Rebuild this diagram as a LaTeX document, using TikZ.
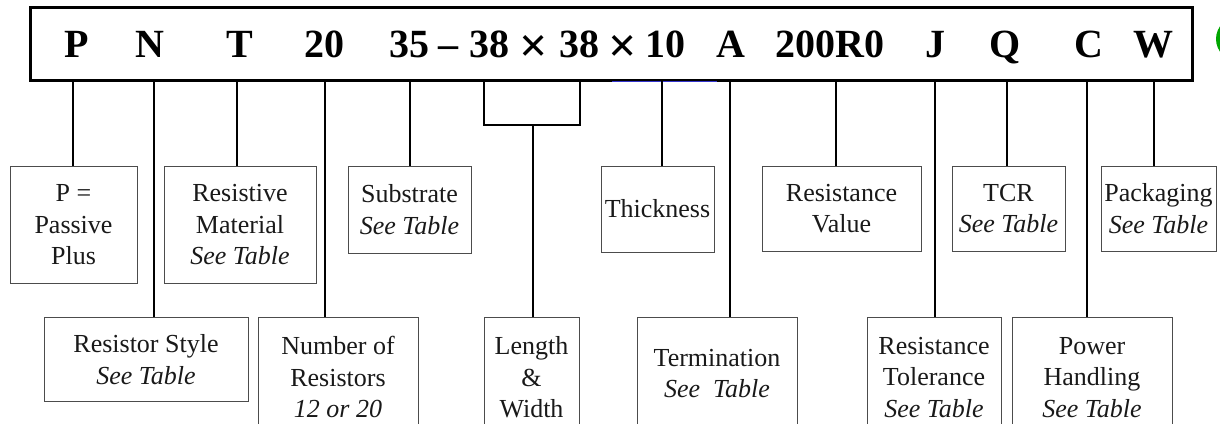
\documentclass[tikz,border=0pt]{standalone}
\usepackage{fontspec}
\setmainfont{Liberation Serif}
\begin{document}
\begin{tikzpicture}[x=1pt, y=-1pt]
  \tikzstyle{mainbox}=[rectangle, draw, line width=3pt, minimum width=1162pt, minimum height=73pt]
  \tikzstyle{code}=[anchor=base, inner sep=0pt, font=\fontsize{40}{40}\selectfont\bfseries]
  \tikzstyle{times}=[code, font=\fontsize{50}{50}\selectfont\bfseries]
  \tikzstyle{lbl}=[rectangle, draw=black!70, line width=0.9pt, anchor=north, align=center,
                   inner sep=2pt, text=black!90, font=\fontsize{26}{31.5}\selectfont]
  \tikzstyle{stem}=[line width=2.6pt]
  \tikzstyle{brk}=[line width=2pt]

  \useasboundingbox (0,0) rectangle (1220,423);

  % Kennung
  \node[mainbox] (pn) at (611.9,44) {};
  \foreach \x/\ch [count=\i] in {77/P, 150/N, 240/T, 324/20, 409.5/35, 448.5/–, 489/38,
      579/38, 665/10, 731/A, 830/200R0, 935/J, 1005/Q, 1089/C, 1153/W}
    \node[code] (l\i) at (\x,57) {\ch};
  \node[times] (x1) at (534,62.5) {×};
  \node[times] (x2) at (622.5,62.5) {×};
  \draw[blue!60!gray, line width=1.2pt] (612,81.8) -- (717,81.8);

  % obere Reihe
  \node[lbl, minimum width=127, minimum height=117] (pp) at (73.5,166) {P =\\Passive\\Plus};
  \node[lbl, minimum width=152, minimum height=117] (rm) at (240,166) {Resistive\\Material\\\textit{See Table}};
  \node[lbl, minimum width=123, minimum height=87] (sub) at (409.5,165.5) {Substrate\\\textit{See Table}};
  \node[lbl, minimum width=113, minimum height=86] (thk) at (657.5,165.5) {Thickness};
  \node[lbl, minimum width=159, minimum height=85] (rv) at (841.5,165.5) {Resistance\\Value};
  \node[lbl, minimum width=113, minimum height=85] (tcr) at (1008.5,165.5) {TCR\\\textit{See Table}};
  \node[lbl, minimum width=115, minimum height=85] (pkg) at (1158.5,165.5) {Packaging\\\textit{See Table}};

  % untere Reihe
  \node[lbl, minimum width=204, minimum height=84] (rs) at (146,317) {Resistor Style\\\textit{See Table}};
  \node[lbl, minimum width=160, minimum height=120] (nr) at (338,317) {Number of\\Resistors\\\textit{12 or 20}};
  \node[lbl, minimum width=95, minimum height=120] (lw) at (531.5,317) {Length\\\&\\Width};
  \node[lbl, minimum width=160, minimum height=112] (term) at (717,317) {Termination\\\textit{See\enspace Table}};
  \node[lbl, minimum width=134, minimum height=120] (rt) at (934,317) {Resistance\\Tolerance\\\textit{See Table}};
  \node[lbl, minimum width=160, minimum height=120] (ph) at (1092,317) {Power\\Handling\\\textit{See Table}};

  % Verbindungen
  \foreach \x/\b [count=\i] in {73/pp, 154/rs, 237/rm, 325/nr, 410/sub, 662/thk,
      730/term, 836/rv, 935/rt, 1007/tcr, 1087/ph, 1154/pkg} {
    \coordinate (k\i) at (\x,80.5);
    \draw[stem] (k\i) -- (k\i |- \b.north);
  }
  \coordinate (bl) at (484,80.5);
  \coordinate (br) at (580,80.5);
  \coordinate (bm) at (533,125);
  \draw[brk] (bl) |- (bm) -| (br);
  \draw[stem] (bm) -- (bm |- lw.north);

  \draw[green!65!black, line width=4pt] (1238,39) circle (20);
\end{tikzpicture}
\end{document}
